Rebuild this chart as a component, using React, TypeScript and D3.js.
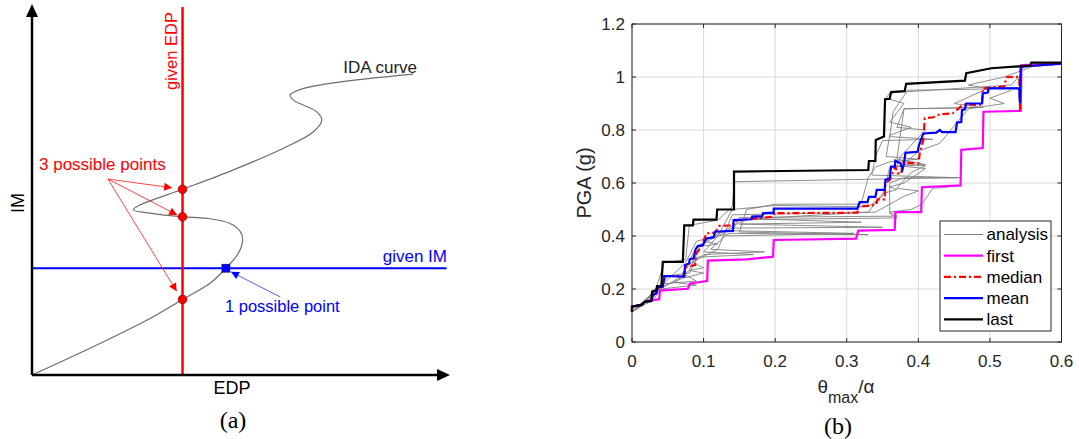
import React from "react";
import * as d3 from "d3";

type Pt = [number, number];

// ---------- panel (a): schematic IDA curve (normalised EDP, IM) ----------
const idaCurve: Pt[] = [
  [0, 0], [0.163, 0.086], [0.283, 0.154], [0.361, 0.206], [0.427, 0.25],
  [0.465, 0.291], [0.495, 0.332], [0.505, 0.368], [0.5, 0.39], [0.475, 0.413],
  [0.419, 0.427], [0.361, 0.431], [0.283, 0.441], [0.243, 0.45], [0.259, 0.463],
  [0.361, 0.506], [0.483, 0.559], [0.603, 0.618], [0.675, 0.663], [0.695, 0.695],
  [0.683, 0.717], [0.627, 0.749], [0.619, 0.763], [0.643, 0.778], [0.723, 0.796],
  [0.914, 0.82],
];
const givenEdp = 0.361;
const givenIm = 0.291;
const edpHits = [0.206, 0.431, 0.506]; // IM values where the red line cuts the curve
const imHit: Pt = [0.465, 0.291];
const noteFrom: Pt = [0.182, 0.534];
const noteTo: Pt[] = [[0.336, 0.51], [0.348, 0.436], [0.347, 0.228]];
const blueFrom: Pt = [0.595, 0.213];
const blueTo: Pt = [0.477, 0.281];

// ---------- panel (b): IDA results ----------
const xTicks = [0, 0.1, 0.2, 0.3, 0.4, 0.5, 0.6];
const yTicks = [0, 0.2, 0.4, 0.6, 0.8, 1, 1.2];

const firstCurve: Pt[] = [
  [0, 0.114], [0, 0.133], [0.013, 0.14], [0.018, 0.152], [0.029, 0.158], [0.038, 0.161],
  [0.039, 0.194], [0.078, 0.201], [0.081, 0.221], [0.105, 0.23], [0.106, 0.307],
  [0.16, 0.312], [0.197, 0.322], [0.198, 0.385], [0.313, 0.39], [0.316, 0.42],
  [0.367, 0.423], [0.368, 0.49], [0.404, 0.49], [0.405, 0.584], [0.459, 0.591],
  [0.46, 0.725], [0.49, 0.732], [0.491, 0.869], [0.543, 0.872], [0.544, 1.045], [0.6, 1.05],
];
const medianCurve: Pt[] = [
  [0, 0.114], [0, 0.133], [0.013, 0.14], [0.018, 0.152], [0.027, 0.155], [0.029, 0.175],
  [0.035, 0.19], [0.037, 0.205], [0.043, 0.21], [0.044, 0.249], [0.072, 0.249],
  [0.076, 0.284], [0.088, 0.29], [0.09, 0.335], [0.097, 0.36], [0.104, 0.41],
  [0.116, 0.413], [0.122, 0.438], [0.141, 0.44], [0.143, 0.458], [0.197, 0.473],
  [0.199, 0.486], [0.315, 0.488], [0.316, 0.511], [0.341, 0.517], [0.343, 0.538],
  [0.353, 0.538], [0.354, 0.599], [0.36, 0.611], [0.365, 0.643], [0.368, 0.662],
  [0.371, 0.637], [0.376, 0.634], [0.378, 0.677], [0.4, 0.674], [0.402, 0.712],
  [0.407, 0.762], [0.409, 0.844], [0.421, 0.848], [0.43, 0.859], [0.448, 0.863],
  [0.455, 0.878], [0.462, 0.896], [0.489, 0.896], [0.49, 0.957], [0.52, 0.964],
  [0.523, 0.999], [0.541, 1.001], [0.542, 0.875], [0.543, 1.04], [0.6, 1.05],
];
const meanCurve: Pt[] = [
  [0, 0.114], [0, 0.133], [0.013, 0.14], [0.018, 0.152], [0.027, 0.155], [0.029, 0.177],
  [0.034, 0.184], [0.036, 0.206], [0.043, 0.209], [0.0455, 0.249], [0.073, 0.247],
  [0.074, 0.29], [0.08, 0.297], [0.0805, 0.312], [0.086, 0.316], [0.089, 0.35],
  [0.092, 0.362], [0.099, 0.366], [0.104, 0.391], [0.114, 0.395], [0.116, 0.416],
  [0.141, 0.419], [0.142, 0.46], [0.167, 0.463], [0.168, 0.473], [0.182, 0.475],
  [0.183, 0.486], [0.198, 0.488], [0.198, 0.503], [0.315, 0.503], [0.318, 0.528],
  [0.329, 0.528], [0.331, 0.548], [0.34, 0.548], [0.342, 0.574], [0.353, 0.574],
  [0.354, 0.611], [0.36, 0.618], [0.362, 0.662], [0.367, 0.662], [0.368, 0.684],
  [0.375, 0.674], [0.378, 0.652], [0.38, 0.674], [0.382, 0.714], [0.399, 0.718],
  [0.401, 0.743], [0.407, 0.787], [0.425, 0.79], [0.43, 0.8], [0.433, 0.792],
  [0.452, 0.792], [0.454, 0.828], [0.46, 0.83], [0.461, 0.875], [0.465, 0.878],
  [0.467, 0.9], [0.489, 0.9], [0.49, 0.938], [0.497, 0.941], [0.498, 0.957],
  [0.541, 0.957], [0.542, 0.9], [0.543, 1.039], [0.6, 1.05],
];
const lastCurve: Pt[] = [
  [0, 0.114], [0, 0.133], [0.013, 0.14], [0.018, 0.152], [0.027, 0.155], [0.028, 0.19],
  [0.034, 0.196], [0.035, 0.211], [0.041, 0.211], [0.043, 0.302], [0.071, 0.302],
  [0.073, 0.44], [0.085, 0.44], [0.086, 0.462], [0.118, 0.462], [0.119, 0.5],
  [0.1425, 0.5], [0.1425, 0.643], [0.33, 0.649], [0.331, 0.683], [0.34, 0.683],
  [0.3405, 0.762], [0.352, 0.775], [0.3535, 0.916], [0.36, 0.918], [0.362, 0.943],
  [0.381, 0.947], [0.383, 0.974], [0.465, 0.986], [0.467, 1.014], [0.502, 1.033],
  [0.556, 1.043], [0.558, 1.054], [0.6, 1.054],
];

// individual record curves (thin grey)
const analysisCurves: Pt[][] = [
  [[0, 0.114], [0.03, 0.17], [0.045, 0.3], [0.075, 0.31], [0.08, 0.44], [0.12, 0.46],
   [0.14, 0.51], [0.143, 0.605], [0.455, 0.62], [0.335, 0.63], [0.34, 0.7],
   [0.35, 0.76], [0.42, 0.765], [0.36, 0.775], [0.365, 0.87], [0.385, 0.95], [0.5, 0.955],
   [0.47, 0.97], [0.52, 1.0], [0.56, 1.04], [0.6, 1.05]],
  [[0, 0.114], [0.04, 0.2], [0.07, 0.25], [0.09, 0.36], [0.12, 0.4], [0.14, 0.43],
   [0.35, 0.433], [0.15, 0.445], [0.32, 0.452], [0.17, 0.465], [0.33, 0.49], [0.35, 0.56], [0.37, 0.575],
   [0.36, 0.585], [0.38, 0.6], [0.41, 0.655], [0.37, 0.665], [0.375, 0.7], [0.41, 0.8],
   [0.37, 0.81], [0.38, 0.88], [0.49, 0.885], [0.45, 0.9], [0.5, 0.96], [0.54, 0.96]],
  [[0, 0.114], [0.03, 0.16], [0.04, 0.2], [0.09, 0.215], [0.06, 0.225], [0.08, 0.27],
   [0.1, 0.28], [0.085, 0.3], [0.1, 0.33], [0.185, 0.34], [0.11, 0.35], [0.13, 0.4],
   [0.31, 0.41], [0.14, 0.42], [0.15, 0.47], [0.37, 0.475], [0.36, 0.49], [0.39, 0.5],
   [0.405, 0.52], [0.42, 0.58], [0.46, 0.59]],
  [[0, 0.114], [0.035, 0.2], [0.07, 0.24], [0.1, 0.26], [0.08, 0.27], [0.095, 0.36],
   [0.12, 0.37], [0.1, 0.38], [0.15, 0.45], [0.16, 0.462], [0.37, 0.468], [0.36, 0.485],
   [0.36, 0.6], [0.38, 0.62], [0.46, 0.62]],
  [[0, 0.114], [0.04, 0.21], [0.075, 0.3], [0.09, 0.38], [0.11, 0.395], [0.14, 0.41],
   [0.33, 0.405], [0.15, 0.415], [0.16, 0.5], [0.2, 0.52], [0.32, 0.52], [0.33, 0.62],
   [0.34, 0.66], [0.36, 0.68], [0.4, 0.69], [0.355, 0.7], [0.36, 0.78], [0.39, 0.81],
   [0.36, 0.83], [0.38, 0.9], [0.355, 0.92], [0.36, 0.94], [0.53, 0.97], [0.54, 1.0]],
  [[0, 0.114], [0.04, 0.21], [0.05, 0.25], [0.08, 0.26], [0.09, 0.31], [0.12, 0.35],
   [0.14, 0.48], [0.34, 0.49], [0.36, 0.52], [0.38, 0.55], [0.4, 0.57], [0.37, 0.58],
   [0.39, 0.64], [0.41, 0.665], [0.38, 0.67], [0.4, 0.72], [0.43, 0.75], [0.47, 0.88],
   [0.52, 0.9], [0.5, 0.92], [0.53, 0.95]],
  [[0, 0.114], [0.03, 0.18], [0.045, 0.22], [0.09, 0.23], [0.07, 0.26], [0.09, 0.32],
   [0.17, 0.33], [0.1, 0.34], [0.12, 0.4], [0.14, 0.5], [0.2, 0.515], [0.33, 0.51],
   [0.35, 0.55], [0.36, 0.66], [0.41, 0.67], [0.37, 0.69], [0.38, 0.88], [0.49, 0.885]],
];

const legendItems = [
  { name: "analysis", color: "#808080", width: 1, dash: "" },
  { name: "first", color: "#ff00ff", width: 2.2, dash: "" },
  { name: "median", color: "#ff0000", width: 2.2, dash: "7,3,2,3" },
  { name: "mean", color: "#0000ff", width: 2.2, dash: "" },
  { name: "last", color: "#000000", width: 2.2, dash: "" },
];

const SANS = "'Liberation Sans', Arial, sans-serif";
const SERIF = "'Liberation Serif', 'Times New Roman', serif";

export default function App() {
  // panel (a) scales
  const ax = d3.scaleLinear().domain([0, 1]).range([32, 449]);
  const ay = d3.scaleLinear().domain([0, 1]).range([375, 8]);
  const idaLine = d3
    .line<Pt>()
    .x((d) => ax(d[0]))
    .y((d) => ay(d[1]))
    .curve(d3.curveCatmullRom.alpha(0.5));

  // panel (b) scales
  const bx = d3.scaleLinear().domain([0, 0.6]).range([632, 1061.5]);
  const by = d3.scaleLinear().domain([0, 1.2]).range([342, 24]);
  const stepLine = d3
    .line<Pt>()
    .x((d) => bx(d[0]))
    .y((d) => by(d[1]));

  const series = [
    { data: firstCurve, ...legendItems[1] },
    { data: medianCurve, ...legendItems[2] },
    { data: meanCurve, ...legendItems[3] },
    { data: lastCurve, ...legendItems[4] },
  ];

  const tickLen = 4;
  const legX = 940;
  const legY = 221;
  const legRow = 21.2;

  return (
    <svg
      width={1079}
      height={439}
      style={{ position: "absolute", left: 0, top: 0, background: "#fff" }}
    >
      <defs>
        <marker id="redHead" viewBox="0 0 10 10" refX="10" refY="5" markerWidth="12" markerHeight="8"
          markerUnits="userSpaceOnUse" orient="auto">
          <path d="M0,0 L10,5 L0,10 z" fill="#ff0000" />
        </marker>
        <marker id="blueHead" viewBox="0 0 10 10" refX="10" refY="5" markerWidth="12" markerHeight="8"
          markerUnits="userSpaceOnUse" orient="auto">
          <path d="M0,0 L10,5 L0,10 z" fill="#0000ff" />
        </marker>
      </defs>

      {/* ===== panel (a) ===== */}
      <g fontFamily={SANS}>
        <path d={idaLine(idaCurve) ?? ""} fill="none" stroke="#6e6e6e" strokeWidth={1.2} />
        <line x1={ax(0)} x2={ax(0.994)} y1={ay(givenIm)} y2={ay(givenIm)} stroke="#0000ff" strokeWidth={2} />
        <line x1={ax(givenEdp)} x2={ax(givenEdp)} y1={ay(0)} y2={ay(1.003)} stroke="#ff0000" strokeWidth={2.5} />

        {/* axes with arrow heads */}
        <line x1={ax(0)} x2={ax(0)} y1={ay(0)} y2={16} stroke="#000" strokeWidth={2.5} />
        <line x1={ax(0)} x2={440} y1={ay(0)} y2={ay(0)} stroke="#000" strokeWidth={2.5} />
        <path d={`M${ax(0)},4 L${ax(0) - 6},17 L${ax(0) + 6},17 z`} fill="#000" />
        <path d={`M450,${ay(0)} L437,${ay(0) - 6} L437,${ay(0) + 6} z`} fill="#000" />

        {/* annotation arrows */}
        {noteTo.map((p, i) => (
          <line key={i} x1={ax(noteFrom[0])} y1={ay(noteFrom[1])} x2={ax(p[0])} y2={ay(p[1])}
            stroke="#ff3030" strokeWidth={0.9} markerEnd="url(#redHead)" />
        ))}
        <line x1={ax(blueFrom[0])} y1={ay(blueFrom[1])} x2={ax(blueTo[0])} y2={ay(blueTo[1])}
          stroke="#4a4aff" strokeWidth={0.9} markerEnd="url(#blueHead)" />

        {edpHits.map((v, i) => (
          <circle key={i} cx={ax(givenEdp)} cy={ay(v)} r={4.3} fill="#ff0000" stroke="#9a0000" strokeWidth={0.8} />
        ))}
        <rect x={ax(imHit[0]) - 4} y={ay(imHit[1]) - 4} width={8} height={8} fill="#0000ff" stroke="#000080" strokeWidth={0.6} />

        <text x={0} y={0} transform={`translate(177,51) rotate(-90)`} textAnchor="middle" fontSize={16.5} fill="#ff0000">given EDP</text>
        <text x={417} y={73} textAnchor="end" fontSize={17} fill="#222">IDA curve</text>
        <text x={39} y={170} fontSize={17} fill="#ff0000">3 possible points</text>
        <text x={447} y={262} textAnchor="end" fontSize={17} fill="#0000ff">given IM</text>
        <text x={225} y={312} fontSize={16.5} fill="#0000ff">1 possible point</text>
        <text x={0} y={0} transform={`translate(23.5,203) rotate(-90)`} textAnchor="middle" fontSize={18} fill="#000">IM</text>
        <text x={232} y={394} textAnchor="middle" fontSize={18} fill="#000">EDP</text>
        <text x={233} y={428} textAnchor="middle" fontSize={24} fontFamily={SERIF} fill="#000">(a)</text>
      </g>

      {/* ===== panel (b) ===== */}
      <g fontFamily={SANS}>
        {xTicks.map((t) => (
          <line key={"gx" + t} x1={bx(t)} x2={bx(t)} y1={by(0)} y2={by(1.2)} stroke="#dadada" strokeWidth={1} />
        ))}
        {yTicks.map((t) => (
          <line key={"gy" + t} x1={bx(0)} x2={bx(0.6)} y1={by(t)} y2={by(t)} stroke="#dadada" strokeWidth={1} />
        ))}

        {analysisCurves.map((c, i) => (
          <path key={"a" + i} d={stepLine(c) ?? ""} fill="none" stroke="#808080" strokeWidth={0.9} />
        ))}
        {series.map((s) => (
          <path key={s.name} d={stepLine(s.data) ?? ""} fill="none" stroke={s.color}
            strokeWidth={s.width} strokeDasharray={s.dash || undefined} strokeLinejoin="miter" />
        ))}

        {/* box + ticks */}
        <rect x={bx(0)} y={by(1.2)} width={bx(0.6) - bx(0)} height={by(0) - by(1.2)} fill="none" stroke="#262626" strokeWidth={1} />
        {xTicks.map((t) => (
          <g key={"tx" + t}>
            <line x1={bx(t)} x2={bx(t)} y1={by(0)} y2={by(0) - tickLen} stroke="#262626" />
            <line x1={bx(t)} x2={bx(t)} y1={by(1.2)} y2={by(1.2) + tickLen} stroke="#262626" />
            <text x={bx(t)} y={367} textAnchor="middle" fontSize={17} fill="#262626">{d3.format("~g")(t)}</text>
          </g>
        ))}
        {yTicks.map((t) => (
          <g key={"ty" + t}>
            <line x1={bx(0)} x2={bx(0) + tickLen} y1={by(t)} y2={by(t)} stroke="#262626" />
            <line x1={bx(0.6)} x2={bx(0.6) - tickLen} y1={by(t)} y2={by(t)} stroke="#262626" />
            <text x={625} y={by(t)} dy="0.35em" textAnchor="end" fontSize={17} fill="#262626">{d3.format("~g")(t)}</text>
          </g>
        ))}

        <text x={0} y={0} transform="translate(591,183) rotate(-90)" textAnchor="middle" fontSize={20} fill="#262626">PGA (g)</text>
        <text x={846} y={393} textAnchor="middle" fontSize={19} fill="#262626">
          θ<tspan fontSize={16} dy={10}>max</tspan><tspan dy={-10}>/α</tspan>
        </text>
        <text x={838} y={434} textAnchor="middle" fontSize={24} fontFamily={SERIF} fill="#000">(b)</text>

        {/* legend */}
        <rect x={legX} y={legY} width={111} height={110} fill="#fff" stroke="#262626" strokeWidth={1} />
        {legendItems.map((it, i) => {
          const yy = legY + 13.5 + i * legRow;
          return (
            <g key={it.name}>
              <line x1={legX + 4} x2={legX + 43} y1={yy} y2={yy} stroke={it.color}
                strokeWidth={it.width} strokeDasharray={it.dash || undefined} />
              <text x={legX + 46.5} y={yy} dy="0.35em" fontSize={17} fill="#000">{it.name}</text>
            </g>
          );
        })}
      </g>
    </svg>
  );
}
